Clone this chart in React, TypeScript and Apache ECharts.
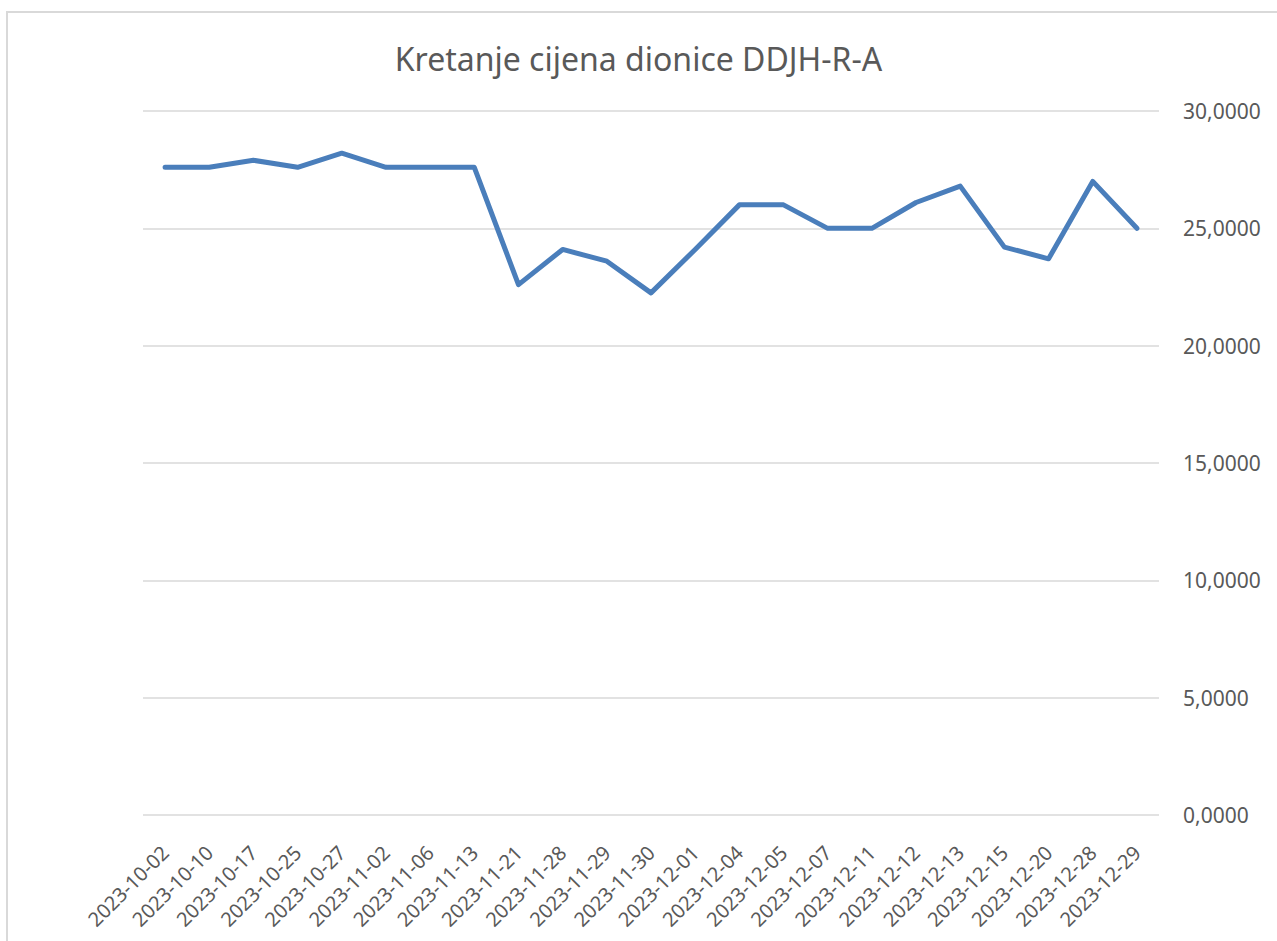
import React, { useEffect, useRef } from "react";
import * as echarts from "echarts";

const categories: string[] = [
  "2023-10-02", "2023-10-10", "2023-10-17", "2023-10-25", "2023-10-27",
  "2023-11-02", "2023-11-06", "2023-11-13", "2023-11-21", "2023-11-28",
  "2023-11-29", "2023-11-30", "2023-12-01", "2023-12-04", "2023-12-05",
  "2023-12-07", "2023-12-11", "2023-12-12", "2023-12-13", "2023-12-15",
  "2023-12-20", "2023-12-28", "2023-12-29",
];

const prices: number[] = [
  27.6, 27.6, 27.9, 27.6, 28.2,
  27.6, 27.6, 27.6, 22.6, 24.1,
  23.6, 22.25, 24.1, 26.0, 26.0,
  25.0, 25.0, 26.1, 26.8, 24.2,
  23.7, 27.0, 25.0,
];

const yMin = 0;
const yMax = 30;
const yInterval = 5;

const titleText = "Kretanje cijena dionice DDJH-R-A";

export default function App() {
  const ref = useRef<HTMLDivElement>(null);

  useEffect(() => {
    if (!ref.current) return;
    const chart = echarts.init(ref.current, undefined, { renderer: "svg" });
    const font = "'Noto Sans', 'Open Sans', sans-serif";
    chart.setOption({
      animation: false,
      backgroundColor: "#ffffff",
      title: {
        text: titleText,
        left: "center",
        top: 37,
        textStyle: {
          fontFamily: font,
          fontSize: 32,
          fontWeight: "normal",
          color: "#595959",
        },
      },
      graphic: [
        {
          type: "rect",
          shape: { x: 7, y: 12, width: 1320, height: 1000 },
          style: { fill: "none", stroke: "#d9d9d9", lineWidth: 2 },
          silent: true,
        },
      ],
      grid: {
        left: 143,
        right: 118,
        top: 111,
        bottom: 126,
        containLabel: false,
      },
      xAxis: {
        type: "category",
        data: categories,
        boundaryGap: true,
        axisLine: { show: false },
        axisTick: { show: false },
        axisLabel: {
          rotate: 45,
          interval: 0,
          margin: 34,
          color: "#595959",
          fontFamily: font,
          fontSize: 20,
        },
      },
      yAxis: {
        type: "value",
        position: "right",
        min: yMin,
        max: yMax,
        interval: yInterval,
        axisLine: { show: false },
        axisTick: { show: false },
        splitLine: { lineStyle: { color: "#d9d9d9", width: 1.5 } },
        axisLabel: {
          margin: 24,
          color: "#595959",
          fontFamily: font,
          fontSize: 21,
          formatter: (v: number) => v.toFixed(4).replace(".", ","),
        },
      },
      series: [
        {
          type: "line",
          data: prices,
          symbol: "none",
          lineStyle: { color: "#4a7ebb", width: 5, cap: "round", join: "round" },
          itemStyle: { color: "#4a7ebb" },
        },
      ],
    });
    return () => chart.dispose();
  }, []);

  return (
    <div
      ref={ref}
      style={{ position: "fixed", left: 0, top: 0, width: 1277, height: 941 }}
    />
  );
}
